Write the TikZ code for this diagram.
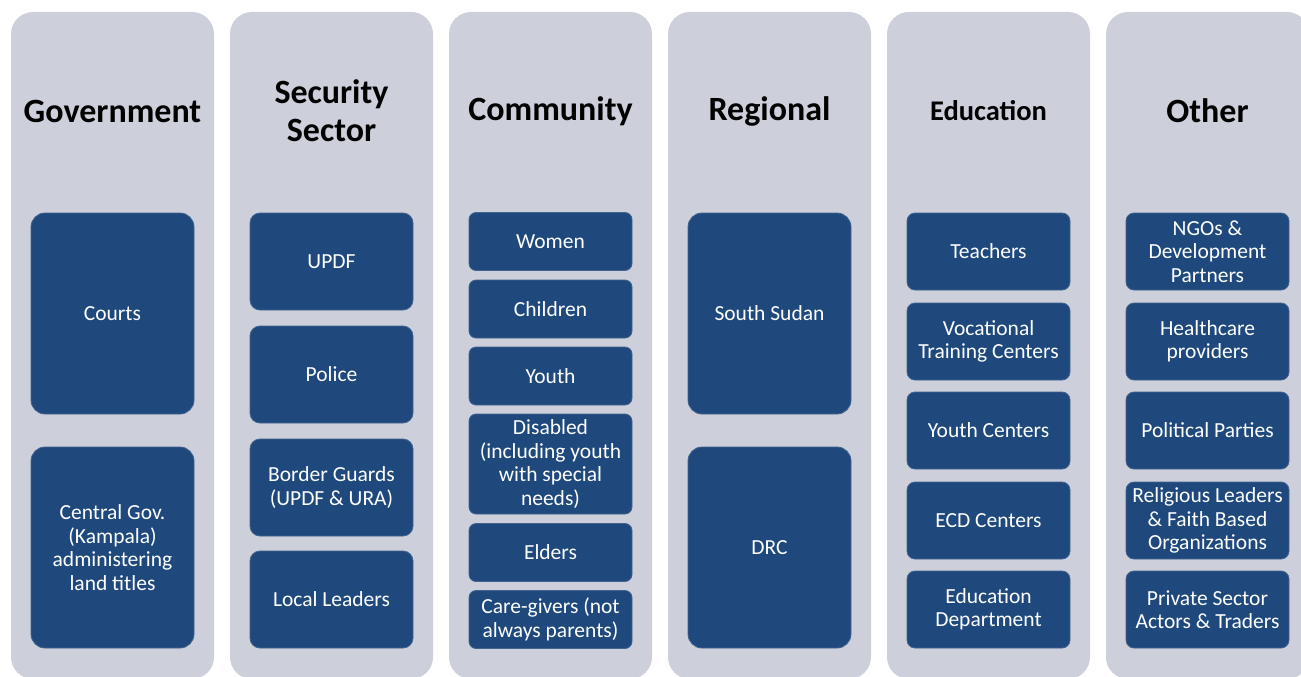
\documentclass[tikz,border=0pt]{standalone}
\usepackage{fontspec}
\setmainfont{Carlito}
\definecolor{colbg}{HTML}{CDD0DA}
\definecolor{boxblue}{HTML}{1F497D}
\tikzset{
  column/.style={fill=colbg, rounded corners=22pt, minimum width=203pt, minimum height=667pt, inner sep=0pt},
  heading/.style={font=\bfseries\fontsize{34}{38}\selectfont, align=center, text=black},
  actor/.style={fill=boxblue, draw=boxblue!85!white, line width=0.8pt, rounded corners=10pt, minimum width=163pt, inner sep=0pt, text=white, align=center, font=\fontsize{21.5}{23.5}\selectfont},
}
\begin{document}
\begin{tikzpicture}[x=1pt,y=-1pt]
\useasboundingbox (0,0) rectangle (1301,677);
% the six groups
\foreach \n/\x in {gov/112.5, sec/331.5, com/550.5, reg/769.5, edu/988.5, oth/1207.5}
  \node[column] (\n) at (\x,345.5) {};
\node[heading] (govh) at (112.5,111) {Government};
\node[heading] (sech) at (331.5,111) {Security\\Sector};
\node[heading] (comh) at (550.5,111) {Community};
\node[heading] (regh) at (769.5,111) {Regional};
\node[heading, font=\bfseries\fontsize{28.5}{32}\selectfont] (eduh) at (988.5,111) {Education};
\node[heading] (othh) at (1207.5,111) {Other};
% government
\node[actor, minimum height=201pt, rounded corners=14pt] (courts) at (112.5,313.5) {Courts};
\node[actor, minimum height=201pt, rounded corners=14pt] (central) at (112.5,547.5) {Central Gov.\\(Kampala)\\administering\\land titles};
% security sector
\node[actor, minimum height=97pt] (updf) at (331.5,261.5) {UPDF};
\node[actor, minimum height=97pt] (police) at (331.5,374.5) {Police};
\node[actor, minimum height=97pt] (border) at (331.5,487.5) {Border Guards\\(UPDF \& URA)};
\node[actor, minimum height=97pt] (local) at (331.5,599.5) {Local Leaders};
% community
\node[actor, minimum height=58pt, rounded corners=7pt] (women) at (550.5,241.5) {Women};
\node[actor, minimum height=58pt, rounded corners=7pt] (children) at (550.5,309) {Children};
\node[actor, minimum height=58pt, rounded corners=7pt] (youth) at (550.5,376) {Youth};
\node[actor, minimum height=100pt, rounded corners=7pt] (disabled) at (550.5,464) {Disabled\\(including youth\\with special\\needs)};
\node[actor, minimum height=58pt, rounded corners=7pt] (elders) at (550.5,552.5) {Elders};
\node[actor, minimum height=58pt, rounded corners=7pt] (carers) at (550.5,619.5) {Care-givers (not\\always parents)};
% regional
\node[actor, minimum height=201pt, rounded corners=14pt] (sudan) at (769.5,313.5) {South Sudan};
\node[actor, minimum height=201pt, rounded corners=14pt] (drc) at (769.5,547.5) {DRC};
% education
\node[actor, minimum height=77pt, rounded corners=8pt] (teachers) at (988.5,251.5) {Teachers};
\node[actor, minimum height=77pt, rounded corners=8pt] (vocational) at (988.5,341.5) {Vocational\\Training Centers};
\node[actor, minimum height=77pt, rounded corners=8pt] (ycenters) at (988.5,430.5) {Youth Centers};
\node[actor, minimum height=77pt, rounded corners=8pt] (ecd) at (988.5,520.5) {ECD Centers};
\node[actor, minimum height=77pt, rounded corners=8pt] (edudept) at (988.5,609.5) {Education\\Department};
% other
\node[actor, minimum height=77pt, rounded corners=8pt] (ngos) at (1207.5,251.5) {NGOs \&\\Development\\Partners};
\node[actor, minimum height=77pt, rounded corners=8pt] (health) at (1207.5,341.5) {Healthcare\\providers};
\node[actor, minimum height=77pt, rounded corners=8pt] (parties) at (1207.5,430.5) {Political Parties};
\node[actor, minimum height=77pt, rounded corners=8pt] (religious) at (1207.5,520.5) {Religious Leaders\\\& Faith Based\\Organizations};
\node[actor, minimum height=77pt, rounded corners=8pt] (private) at (1207.5,609.5) {Private Sector\\Actors \& Traders};
\end{tikzpicture}
\end{document}
